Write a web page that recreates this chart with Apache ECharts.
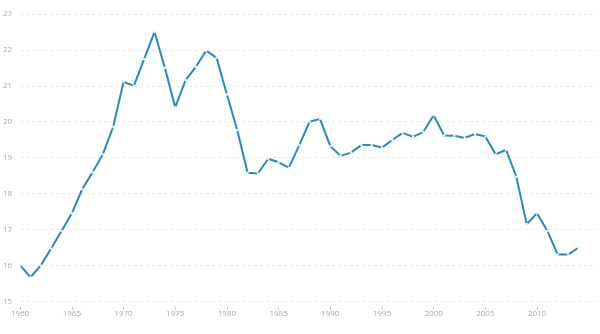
<!DOCTYPE html>
<html><head><meta charset="utf-8">
<script src="https://cdn.jsdelivr.net/npm/echarts@6/dist/echarts.min.js"></script>
<style>html,body{margin:0;padding:0;background:#fff}#c{width:600px;height:334px}</style>
</head><body><div id="c"></div>
<script>
const years = [];
for (let y = 1960; y <= 2014; y++) years.push(y);
const values = [16.0,15.67,16.0,16.47,16.96,17.45,18.12,18.59,19.09,19.86,
  21.11,21.0,21.75,22.5,21.5,20.4,21.16,21.53,21.98,21.78,
  20.76,19.77,18.58,18.56,18.97,18.87,18.72,19.35,20.0,20.08,
  19.32,19.05,19.14,19.35,19.35,19.28,19.49,19.69,19.58,19.72,
  20.18,19.62,19.61,19.55,19.66,19.59,19.09,19.22,18.47,17.15,
  17.45,16.96,16.30,16.30,16.49];
const xTicks = [1960,1965,1970,1975,1980,1985,1990,1995,2000,2005,2010];
const yTicks = [15,16,17,18,19,20,21,22,23];
const chart = echarts.init(document.getElementById('c'), null, {renderer:'canvas'});
chart.setOption({
  animation:false,
  grid:{left:19.3,right:3,top:14,bottom:32.7,containLabel:false},
  xAxis:{type:'value',min:1960,max:2015.8,interval:5,offset:5,
    axisLine:{show:false},
    axisTick:{show:true,length:4,customValues:xTicks,lineStyle:{color:'#cccccc'}},
    axisLabel:{customValues:xTicks,formatter:v=>String(v),color:'#a8a8a8',fontSize:8,fontFamily:'Open Sans',margin:3},
    splitLine:{show:false}},
  yAxis:{type:'value',min:15,max:23,interval:1,
    axisLine:{show:false},axisTick:{show:false},
    axisLabel:{formatter:v=>String(v),color:'#a8a8a8',fontSize:8,fontFamily:'Open Sans',margin:8},
    splitLine:{show:true,lineStyle:{color:'#e8e8e8',type:[3,3],width:1}}},
  series:[{type:'line',data:years.map((y,i)=>[y,values[i]]),
    lineStyle:{color:'#2489c5',width:2},
    symbol:'circle',symbolSize:2.5,showSymbol:true,
    itemStyle:{color:'#e8f3fa',borderWidth:0}}]
});
</script></body></html>
